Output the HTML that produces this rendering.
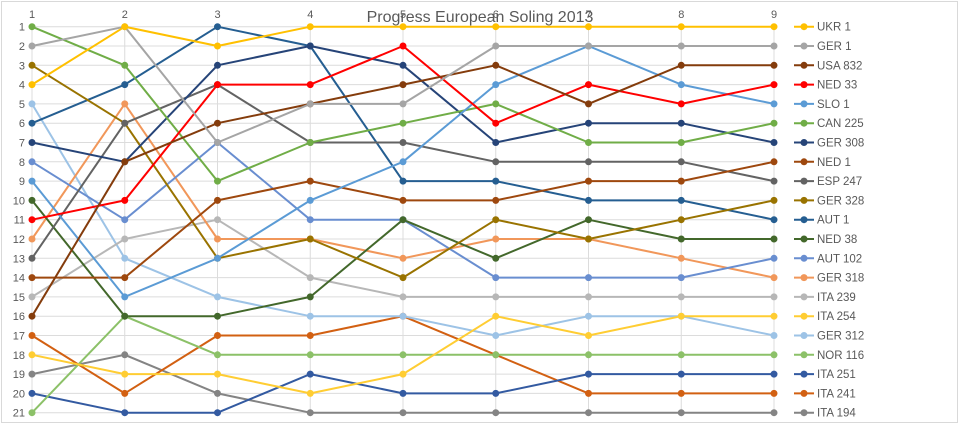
<!DOCTYPE html>
<html><head><meta charset="utf-8"><style>
html,body{margin:0;padding:0;background:#fff;}
svg{display:block;font-family:"Liberation Sans",sans-serif;}
.s{fill:none;stroke-width:2;vector-effect:non-scaling-stroke;stroke-linejoin:round}
.d{fill:none;stroke-width:7;stroke-linecap:round;vector-effect:non-scaling-stroke}
.g{stroke:#dcdcdc;stroke-width:1;vector-effect:non-scaling-stroke}
text{fill:#595959;font-size:11px}
.lg text{font-size:11.5px}
</style></head><body>
<svg width="960" height="425" viewBox="0 0 960 425">
<rect x="1.5" y="1.5" width="956" height="421" fill="#fff" stroke="#d9d9d9"/>
<g transform="translate(-60.75,7.4) scale(92.75,19.3)">
<path class="g" d="M1 1H9M1 2H9M1 3H9M1 4H9M1 5H9M1 6H9M1 7H9M1 8H9M1 9H9M1 10H9M1 11H9M1 12H9M1 13H9M1 14H9M1 15H9M1 16H9M1 17H9M1 18H9M1 19H9M1 20H9M1 21H9M1 1V21M2 1V21M3 1V21M4 1V21M5 1V21M6 1V21M7 1V21M8 1V21M9 1V21"/>
<g id="ser">
<path class="s" stroke="#848484" d="M1 19L2 18L3 20L4 21L5 21L6 21L7 21L8 21L9 21"/>
<path class="s" stroke="#D26012" d="M1 17L2 20L3 17L4 17L5 16L6 18L7 20L8 20L9 20"/>
<path class="s" stroke="#335AA1" d="M1 20L2 21L3 21L4 19L5 20L6 20L7 19L8 19L9 19"/>
<path class="s" stroke="#8CC168" d="M1 21L2 16L3 18L4 18L5 18L6 18L7 18L8 18L9 18"/>
<path class="s" stroke="#9DC3E6" d="M1 5L2 13L3 15L4 16L5 16L6 17L7 16L8 16L9 17"/>
<path class="s" stroke="#FFCD33" d="M1 18L2 19L3 19L4 20L5 19L6 16L7 17L8 16L9 16"/>
<path class="s" stroke="#B7B7B7" d="M1 15L2 12L3 11L4 14L5 15L6 15L7 15L8 15L9 15"/>
<path class="s" stroke="#F1975A" d="M1 12L2 5L3 12L4 12L5 13L6 12L7 12L8 13L9 14"/>
<path class="s" stroke="#698ED0" d="M1 8L2 11L3 7L4 11L5 11L6 14L7 14L8 14L9 13"/>
<path class="s" stroke="#43682B" d="M1 10L2 16L3 16L4 15L5 11L6 13L7 11L8 12L9 12"/>
<path class="s" stroke="#255E91" d="M1 6L2 4L3 1L4 2L5 9L6 9L7 10L8 10L9 11"/>
<path class="s" stroke="#997300" d="M1 3L2 6L3 13L4 12L5 14L6 11L7 12L8 11L9 10"/>
<path class="s" stroke="#636363" d="M1 13L2 6L3 4L4 7L5 7L6 8L7 8L8 8L9 9"/>
<path class="s" stroke="#9E480E" d="M1 14L2 14L3 10L4 9L5 10L6 10L7 9L8 9L9 8"/>
<path class="s" stroke="#264478" d="M1 7L2 8L3 3L4 2L5 3L6 7L7 6L8 6L9 7"/>
<path class="s" stroke="#70AD47" d="M1 1L2 3L3 9L4 7L5 6L6 5L7 7L8 7L9 6"/>
<path class="s" stroke="#5B9BD5" d="M1 9L2 15L3 13L4 10L5 8L6 4L7 2L8 4L9 5"/>
<path class="s" stroke="#FF0000" d="M1 11L2 10L3 4L4 4L5 2L6 6L7 4L8 5L9 4"/>
<path class="s" stroke="#843C0C" d="M1 16L2 8L3 6L4 5L5 4L6 3L7 5L8 3L9 3"/>
<path class="s" stroke="#A5A5A5" d="M1 2L2 1L3 7L4 5L5 5L6 2L7 2L8 2L9 2"/>
<path class="s" stroke="#FFC000" d="M1 4L2 1L3 2L4 1L5 1L6 1L7 1L8 1L9 1"/>
</g>
<path class="d" stroke="#848484" d="M1 19h0M2 18h0M3 20h0M4 21h0M5 21h0M6 21h0M7 21h0M8 21h0M9 21h0"/>
<path class="d" stroke="#D26012" d="M1 17h0M2 20h0M3 17h0M4 17h0M5 16h0M6 18h0M7 20h0M8 20h0M9 20h0"/>
<path class="d" stroke="#335AA1" d="M1 20h0M2 21h0M3 21h0M4 19h0M5 20h0M6 20h0M7 19h0M8 19h0M9 19h0"/>
<path class="d" stroke="#8CC168" d="M1 21h0M2 16h0M3 18h0M4 18h0M5 18h0M6 18h0M7 18h0M8 18h0M9 18h0"/>
<path class="d" stroke="#9DC3E6" d="M1 5h0M2 13h0M3 15h0M4 16h0M5 16h0M6 17h0M7 16h0M8 16h0M9 17h0"/>
<path class="d" stroke="#FFCD33" d="M1 18h0M2 19h0M3 19h0M4 20h0M5 19h0M6 16h0M7 17h0M8 16h0M9 16h0"/>
<path class="d" stroke="#B7B7B7" d="M1 15h0M2 12h0M3 11h0M4 14h0M5 15h0M6 15h0M7 15h0M8 15h0M9 15h0"/>
<path class="d" stroke="#F1975A" d="M1 12h0M2 5h0M3 12h0M4 12h0M5 13h0M6 12h0M7 12h0M8 13h0M9 14h0"/>
<path class="d" stroke="#698ED0" d="M1 8h0M2 11h0M3 7h0M4 11h0M5 11h0M6 14h0M7 14h0M8 14h0M9 13h0"/>
<path class="d" stroke="#43682B" d="M1 10h0M2 16h0M3 16h0M4 15h0M5 11h0M6 13h0M7 11h0M8 12h0M9 12h0"/>
<path class="d" stroke="#255E91" d="M1 6h0M2 4h0M3 1h0M4 2h0M5 9h0M6 9h0M7 10h0M8 10h0M9 11h0"/>
<path class="d" stroke="#997300" d="M1 3h0M2 6h0M3 13h0M4 12h0M5 14h0M6 11h0M7 12h0M8 11h0M9 10h0"/>
<path class="d" stroke="#636363" d="M1 13h0M2 6h0M3 4h0M4 7h0M5 7h0M6 8h0M7 8h0M8 8h0M9 9h0"/>
<path class="d" stroke="#9E480E" d="M1 14h0M2 14h0M3 10h0M4 9h0M5 10h0M6 10h0M7 9h0M8 9h0M9 8h0"/>
<path class="d" stroke="#264478" d="M1 7h0M2 8h0M3 3h0M4 2h0M5 3h0M6 7h0M7 6h0M8 6h0M9 7h0"/>
<path class="d" stroke="#70AD47" d="M1 1h0M2 3h0M3 9h0M4 7h0M5 6h0M6 5h0M7 7h0M8 7h0M9 6h0"/>
<path class="d" stroke="#5B9BD5" d="M1 9h0M2 15h0M3 13h0M4 10h0M5 8h0M6 4h0M7 2h0M8 4h0M9 5h0"/>
<path class="d" stroke="#FF0000" d="M1 11h0M2 10h0M3 4h0M4 4h0M5 2h0M6 6h0M7 4h0M8 5h0M9 4h0"/>
<path class="d" stroke="#843C0C" d="M1 16h0M2 8h0M3 6h0M4 5h0M5 4h0M6 3h0M7 5h0M8 3h0M9 3h0"/>
<path class="d" stroke="#A5A5A5" d="M1 2h0M2 1h0M3 7h0M4 5h0M5 5h0M6 2h0M7 2h0M8 2h0M9 2h0"/>
<path class="d" stroke="#FFC000" d="M1 4h0M2 1h0M3 2h0M4 1h0M5 1h0M6 1h0M7 1h0M8 1h0M9 1h0"/>
</g>
<g text-anchor="middle">
<text x="32" y="18">1</text><text x="124.75" y="18">2</text><text x="217.5" y="18">3</text><text x="310.25" y="18">4</text><text x="403" y="18">5</text><text x="495.75" y="18">6</text><text x="588.5" y="18">7</text><text x="681.25" y="18">8</text><text x="774" y="18">9</text>
</g>
<g text-anchor="end" style="font-size:11.5px">
<text x="25" y="30.7">1</text><text x="25" y="50">2</text><text x="25" y="69.3">3</text><text x="25" y="88.6">4</text><text x="25" y="107.9">5</text><text x="25" y="127.2">6</text><text x="25" y="146.5">7</text><text x="25" y="165.8">8</text><text x="25" y="185.1">9</text><text x="25" y="204.4">10</text><text x="25" y="223.7">11</text><text x="25" y="243">12</text><text x="25" y="262.3">13</text><text x="25" y="281.6">14</text><text x="25" y="300.9">15</text><text x="25" y="320.2">16</text><text x="25" y="339.5">17</text><text x="25" y="358.8">18</text><text x="25" y="378.1">19</text><text x="25" y="397.4">20</text><text x="25" y="416.7">21</text>
</g>
<text x="480" y="22" text-anchor="middle" style="font-size:16px">Progress European Soling 2013</text>
<g class="lg">
<g stroke-width="2"><line x1="794" x2="814" y1="26.7" y2="26.7" stroke="#FFC000"/><line x1="794" x2="814" y1="46" y2="46" stroke="#A5A5A5"/><line x1="794" x2="814" y1="65.3" y2="65.3" stroke="#843C0C"/><line x1="794" x2="814" y1="84.6" y2="84.6" stroke="#FF0000"/><line x1="794" x2="814" y1="103.9" y2="103.9" stroke="#5B9BD5"/><line x1="794" x2="814" y1="123.2" y2="123.2" stroke="#70AD47"/><line x1="794" x2="814" y1="142.5" y2="142.5" stroke="#264478"/><line x1="794" x2="814" y1="161.8" y2="161.8" stroke="#9E480E"/><line x1="794" x2="814" y1="181.1" y2="181.1" stroke="#636363"/><line x1="794" x2="814" y1="200.4" y2="200.4" stroke="#997300"/><line x1="794" x2="814" y1="219.7" y2="219.7" stroke="#255E91"/><line x1="794" x2="814" y1="239" y2="239" stroke="#43682B"/><line x1="794" x2="814" y1="258.3" y2="258.3" stroke="#698ED0"/><line x1="794" x2="814" y1="277.6" y2="277.6" stroke="#F1975A"/><line x1="794" x2="814" y1="296.9" y2="296.9" stroke="#B7B7B7"/><line x1="794" x2="814" y1="316.2" y2="316.2" stroke="#FFCD33"/><line x1="794" x2="814" y1="335.5" y2="335.5" stroke="#9DC3E6"/><line x1="794" x2="814" y1="354.8" y2="354.8" stroke="#8CC168"/><line x1="794" x2="814" y1="374.1" y2="374.1" stroke="#335AA1"/><line x1="794" x2="814" y1="393.4" y2="393.4" stroke="#D26012"/><line x1="794" x2="814" y1="412.7" y2="412.7" stroke="#848484"/></g>
<g><circle cx="804" cy="26.7" r="3.5" fill="#FFC000"/><circle cx="804" cy="46" r="3.5" fill="#A5A5A5"/><circle cx="804" cy="65.3" r="3.5" fill="#843C0C"/><circle cx="804" cy="84.6" r="3.5" fill="#FF0000"/><circle cx="804" cy="103.9" r="3.5" fill="#5B9BD5"/><circle cx="804" cy="123.2" r="3.5" fill="#70AD47"/><circle cx="804" cy="142.5" r="3.5" fill="#264478"/><circle cx="804" cy="161.8" r="3.5" fill="#9E480E"/><circle cx="804" cy="181.1" r="3.5" fill="#636363"/><circle cx="804" cy="200.4" r="3.5" fill="#997300"/><circle cx="804" cy="219.7" r="3.5" fill="#255E91"/><circle cx="804" cy="239" r="3.5" fill="#43682B"/><circle cx="804" cy="258.3" r="3.5" fill="#698ED0"/><circle cx="804" cy="277.6" r="3.5" fill="#F1975A"/><circle cx="804" cy="296.9" r="3.5" fill="#B7B7B7"/><circle cx="804" cy="316.2" r="3.5" fill="#FFCD33"/><circle cx="804" cy="335.5" r="3.5" fill="#9DC3E6"/><circle cx="804" cy="354.8" r="3.5" fill="#8CC168"/><circle cx="804" cy="374.1" r="3.5" fill="#335AA1"/><circle cx="804" cy="393.4" r="3.5" fill="#D26012"/><circle cx="804" cy="412.7" r="3.5" fill="#848484"/></g>
<g>
<text x="817" y="30.7">UKR 1</text><text x="817" y="50">GER 1</text><text x="817" y="69.3">USA 832</text><text x="817" y="88.6">NED 33</text><text x="817" y="107.9">SLO 1</text><text x="817" y="127.2">CAN 225</text><text x="817" y="146.5">GER 308</text><text x="817" y="165.8">NED 1</text><text x="817" y="185.1">ESP 247</text><text x="817" y="204.4">GER 328</text><text x="817" y="223.7">AUT 1</text><text x="817" y="243">NED 38</text><text x="817" y="262.3">AUT 102</text><text x="817" y="281.6">GER 318</text><text x="817" y="300.9">ITA 239</text><text x="817" y="320.2">ITA 254</text><text x="817" y="339.5">GER 312</text><text x="817" y="358.8">NOR 116</text><text x="817" y="378.1">ITA 251</text><text x="817" y="397.4">ITA 241</text><text x="817" y="416.7">ITA 194</text>
</g>
</g>
</svg>
</body></html>
